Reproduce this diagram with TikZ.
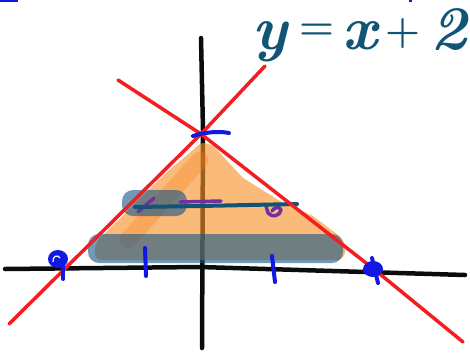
\documentclass[tikz,border=0pt]{standalone}
\definecolor{axisblack}{RGB}{12,12,12}
\definecolor{linered}{RGB}{243,30,34}
\definecolor{markblue}{RGB}{18,24,228}
\definecolor{eqteal}{RGB}{16,84,118}
\definecolor{shadeorange}{RGB}{247,143,38}
\definecolor{bandorange}{RGB}{245,125,25}
\definecolor{shadeblue}{RGB}{20,85,135}
\definecolor{markpurple}{RGB}{112,48,160}
\newcommand{\eqfont}{\fontsize{62}{66}\selectfont\bfseries\itshape}
\newcommand{\smallop}[2]{\raisebox{#1}{\fontsize{40}{42}\selectfont\upshape\bfseries #2}}
\begin{document}
\begin{tikzpicture}[x=1pt,y=-1pt,
  axis/.style={draw=axisblack,line width=4.5pt,line cap=round,line join=round},
  redline/.style={draw=linered,line width=3.5pt,line cap=round,line join=round},
  tickmark/.style={draw=markblue,line width=4pt,line cap=round},
  dotmark/.style={fill=markblue},
  shade/.style={fill=shadeorange,fill opacity=0.62},
  band/.style={draw=bandorange,draw opacity=0.3,line width=17pt,line cap=round},
  highlight/.style={fill=shadeblue,fill opacity=0.6,rounded corners=11pt},
  tealline/.style={draw=eqteal,line width=4pt,line cap=round,line join=round},
  purplemark/.style={draw=markpurple,line width=3.5pt,line cap=round,line join=round},
  eqstyle/.style={anchor=base west,text=eqteal,inner sep=0pt,font=\eqfont}]
\path[use as bounding box] (0,0) rectangle (470,354);
% key points
\coordinate (ytop) at (201,38);
\coordinate (ymid) at (203,130);
\coordinate (ybot) at (202,348);
\coordinate (xleft) at (5,269);
\coordinate (xmid) at (200,267);
\coordinate (xright) at (465,275);
\coordinate (yint) at (201,134);
\coordinate (aLow) at (9,324);
\coordinate (aHigh) at (265,66);
\coordinate (bHigh) at (118,80);
\coordinate (bMid) at (375,270);
\coordinate (bLow) at (463,342);
% axes
\draw[axis] (ytop) -- (ymid) -- (ybot);
\draw[axis] (xleft) -- (xmid) -- (xright);
% shaded region
\fill[shade] (204,143) .. controls (210,143) and (215,147) .. (220,153) -- (243,178) -- (280,201)
  -- (313,216) -- (338,235) .. controls (348,242) and (348,258) .. (338,260) -- (100,260)
  .. controls (92,258) and (94,245) .. (100,238) -- (167,172) -- (193,150)
  .. controls (197,146) and (200,143) .. (204,143) -- cycle;
\coordinate (bandTop) at (200,160);
\coordinate (bandBot) at (128,240);
\draw[band] (bandTop) -- (bandBot);
% highlights
\fill[highlight] (88,234) rectangle (343,263);
\fill[highlight] (122,190) rectangle (187,216);
% purple marks
\coordinate (p1a) at (154,198);
\coordinate (p1b) at (138,212);
\draw[purplemark] (p1a) -- (p1b);
\coordinate (p2a) at (180,202);
\coordinate (p2b) at (221,201);
\draw[purplemark] (p2a) -- (p2b);
\draw[purplemark] (266,206) -- (268,213) .. controls (272,218) and (280,216) .. (281,210)
  .. controls (280,206) and (274,207) .. (272,211);
% teal line
\coordinate (tA) at (135,207);
\coordinate (tB) at (200,206);
\coordinate (tC) at (297,204);
\draw[tealline] (tA) -- (tB) -- (tC);
% red lines
\draw[redline] (aLow) -- (yint) -- (aHigh);
\draw[redline] (bHigh) -- (yint) -- (bMid) -- (bLow);
% blue marks
\coordinate (yt1) at (193,136);
\coordinate (yt2) at (229,133);
\draw[tickmark] (yt1) .. controls (205,132) and (220,131) .. (yt2);
\coordinate (xt1a) at (145,248);
\coordinate (xt1b) at (146,276);
\draw[tickmark] (xt1a) -- (xt1b);
\coordinate (xt2a) at (272,256);
\coordinate (xt2b) at (275,282);
\draw[tickmark] (xt2a) -- (xt2b);
\fill[dotmark] (58,259) ellipse [x radius=10pt, y radius=9pt];
\draw[draw=white,line width=1.2pt] (53,262) .. controls (52,256) and (58,254) .. (60,258);
\coordinate (lt1) at (63,264);
\coordinate (lt2) at (63,279);
\draw[tickmark] (lt1) -- (lt2);
\fill[dotmark] (373,269) ellipse [x radius=10pt, y radius=8pt];
\coordinate (rt1) at (372,258);
\coordinate (rt2) at (378,283);
\draw[tickmark] (rt1) -- (rt2);
% stray marks at the top
\coordinate (s1) at (0,1);
\coordinate (s2) at (18,1);
\draw[draw=markblue,line width=2.5pt] (s1) -- (s2);
\fill[markblue] (409,0) rectangle (412,2);
% equation
\path (252,49) node[eqstyle] (eq) {y\kern12pt\smallop{10pt}{=}\kern8pt x\kern9pt\smallop{6pt}{+}\kern10pt2};
\end{tikzpicture}
\end{document}
